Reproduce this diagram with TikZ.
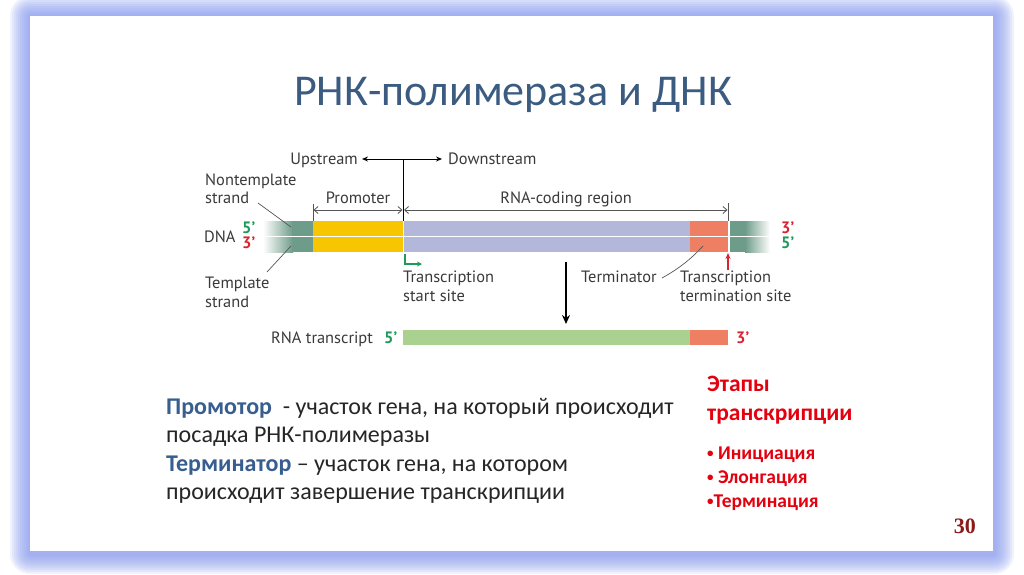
\documentclass[tikz,border=0pt]{standalone}
\usepackage{fontspec}
\setmainfont{Carlito}
\newfontfamily\labfont{PT Sans}
\newfontfamily\serifb{Liberation Serif}
\usetikzlibrary{arrows.meta}
\definecolor{dnag}{HTML}{6E9C8A}
\definecolor{prom}{HTML}{F7C600}
\definecolor{cod}{HTML}{B3B8DA}
\definecolor{term}{HTML}{EE7F62}
\definecolor{rnag}{HTML}{AAD18F}
\definecolor{gn}{HTML}{1E9A5A}
\definecolor{rd}{HTML}{D9232E}
\definecolor{titlec}{HTML}{3B5C80}
\definecolor{bodyb}{HTML}{375E8F}
\definecolor{txt}{HTML}{262626}
\definecolor{lbl}{HTML}{3A3A3A}
\definecolor{stage}{HTML}{E3000F}
\definecolor{pnum}{HTML}{8B1A1A}
\definecolor{glow}{HTML}{8498F0}
\definecolor{gline}{HTML}{555555}
\newcommand{\stbul}{\raisebox{1.5pt}{\fontsize{13}{13}\selectfont•}}
\begin{document}
\begin{tikzpicture}[x=1pt,y=-1pt,
  lab/.style={font=\labfont\fontsize{16.4}{18}\selectfont, text=lbl, inner sep=0pt, anchor=base west},
  labc/.style={lab, anchor=base},
  prime/.style={font=\labfont\bfseries\fontsize{16.5}{18}\selectfont, inner sep=0pt, anchor=base west},
  seg/.style={draw=none, inner sep=0pt, anchor=north west, minimum height=31pt},
  rseg/.style={draw=none, inner sep=0pt, anchor=north west, minimum height=15pt},
  body/.style={font=\fontsize{24}{28}\selectfont, text=txt, inner sep=0pt, anchor=base west},
  stg/.style={font=\bfseries\fontsize{23.5}{26}\selectfont, text=stage, inner sep=0pt, anchor=base west},
  stgs/.style={font=\bfseries\fontsize{19.5}{21}\selectfont, text=stage, inner sep=0pt, anchor=base west},
  dim/.style={gline, line width=0.8pt},
  pointer/.style={gline, line width=0.7pt}]
\useasboundingbox (0,0) rectangle (1024,574);
\fill[white] (0,0) rectangle (1024,574);
% glow frame
\foreach \i in {20,18,...,2}
  \fill[glow, opacity=0.12, rounded corners=\i pt] (30-\i,16-\i) rectangle (993+\i+1,551+\i+3);
\fill[white] (30,16) rectangle (993,551);

% title
\node[font=\fontsize{44}{46}\selectfont, text=titlec, inner sep=0pt, anchor=base] (title) at (513,105) {РНК-полимераза и ДНК};

% DNA bar
\shade[left color=white, right color=dnag] (263,221) rectangle (293,252);
\node[seg, fill=dnag, minimum width=21pt] (lend) at (292,221) {};
\node[seg, fill=prom, minimum width=90pt] (promo) at (313,221) {};
\node[seg, fill=cod, minimum width=287pt] (coding) at (403,221) {};
\node[seg, fill=term, minimum width=38pt] (termin) at (690,221) {};
\node[seg, fill=dnag, minimum width=16pt] (rend) at (730,221) {};
\shade[left color=dnag, right color=white] (745,221) rectangle (770,252);
\draw[white, line width=1.2pt] (263,236.5) -- (770,236.5);
\draw[white!85!prom, line width=1pt] (403.5,221) -- (403.5,252);

% DNA labels
\node[lab] (dna) at (204,242) {DNA};
\node[prime, text=gn] (l5) at (242,233) {5\textquoteright};
\node[prime, text=rd] (l3) at (242,248) {3\textquoteright};
\node[prime, text=rd] (r3) at (781,233) {3\textquoteright};
\node[prime, text=gn] (r5) at (781,248) {5\textquoteright};

% strands
\node[lab] (nont) at (205,185) {Nontemplate};
\node[lab] (nont2) at (205,203) {strand};
\coordinate (nontp) at (291,227);
\draw[pointer] (258,203) -- (nontp);
\node[lab] (templ) at (205,288) {Template};
\node[lab] (templ2) at (205,307) {strand};
\coordinate (templp) at (291,246);
\draw[pointer] (267,272) -- (templp);

% upstream / downstream
\node[lab, anchor=base east] (up) at (358,164) {Upstream};
\node[lab] (down) at (448,164) {Downstream};
\coordinate (split) at (403,159);
\draw[black, line width=0.9pt, -{Stealth[length=6pt,width=5pt]}] (split) -- (362,159);
\draw[black, line width=0.9pt, -{Stealth[length=6pt,width=5pt]}] (split) -- (442,159);
\draw[black, line width=0.8pt] (split) -- (403,221);

% dimension lines
\node[labc] (promlab) at (358,203) {Promoter};
\node[labc] (codlab) at (566,203) {RNA-coding region};
\draw[dim] (313,204) -- (313,221);
\draw[dim] (728,203) -- (728,221);
\draw[dim, {Straight Barb[length=4pt,width=7pt]}-{Straight Barb[length=4pt,width=7pt]}] (313.5,210) -- (402.5,210);
\draw[dim, {Straight Barb[length=4pt,width=7pt]}-{Straight Barb[length=4pt,width=7pt]}] (404,210) -- (727.5,210);

% transcription start site
\draw[gn, line width=1.8pt, -{Stealth[length=5pt,width=5pt]}] (405,254) -- (405,264) -- (422,264);
\node[lab] (tss) at (403,282) {Transcription};
\node[lab] (tss2) at (403,301) {start site};

% terminator
\node[lab] (termlab) at (581,282) {Terminator};
\draw[pointer] (662,278) .. controls (680,268) and (692,258) .. (703,246);
\node[lab] (tts) at (680,282) {Transcription};
\node[lab] (tts2) at (680,301) {termination site};
\draw[rd, line width=1.2pt, -{Stealth[length=6pt,width=5pt]}] (728,270) -- (728,253);

% transcription arrow
\draw[black, line width=2pt, -{Stealth[length=9pt,width=8pt]}] (566,262) -- (566,324);

% RNA transcript
\node[rseg, fill=rnag, minimum width=287pt] (rna) at (403,330) {};
\node[rseg, fill=term, minimum width=38pt] (rnat) at (690,330) {};
\node[lab] (rnalab) at (271,343) {RNA transcript};
\node[prime, text=gn] (rna5) at (384,343) {5\textquoteright};
\node[prime, text=rd] (rna3) at (736,343) {3\textquoteright};

% body text
\node[body] (b1) at (166,414) {\textcolor{bodyb}{\bfseries Промотор}\ \ - участок гена, на который происходит};
\node[body] (b2) at (166,442.5) {посадка РНК-полимеразы};
\node[body] (b3) at (166,471) {\textcolor{bodyb}{\bfseries Терминатор} – участок гена, на котором};
\node[body] (b4) at (166,499.5) {происходит завершение транскрипции};

% stages
\node[stg] (s1) at (707,391) {Этапы};
\node[stg] (s2) at (707,420) {транскрипции};
\node[stgs] (s3) at (707,459) {\stbul{} Инициация};
\node[stgs] (s4) at (707,483) {\stbul{} Элонгация};
\node[stgs] (s5) at (707,507) {\stbul{}Терминация};

% page number
\node[font=\serifb\bfseries\fontsize{22}{24}\selectfont, text=pnum, inner sep=0pt, anchor=base east] (pg) at (976,533) {30};
\end{tikzpicture}
\end{document}
